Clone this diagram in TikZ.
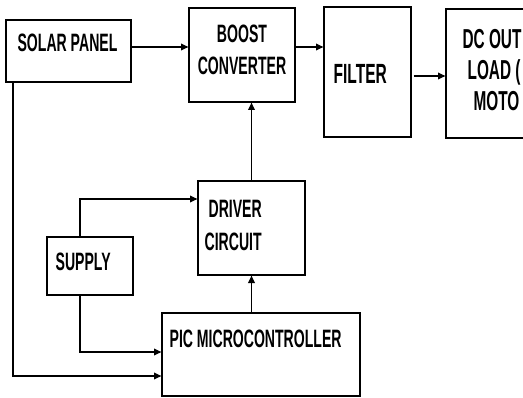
\documentclass[tikz,border=0pt]{standalone}
\usepackage{fontspec}
\setsansfont{Liberation Sans}[FakeStretch=0.56]
\usepackage{tikz}
\usetikzlibrary{arrows.meta}

\begin{document}
\begin{tikzpicture}[>={Triangle[length=4.2pt,width=3.8pt]}, line width=0.7pt,
    block/.style={draw, inner sep=0pt},
    blocktext/.style={inner sep=0pt, font=\sffamily\bfseries\fontsize{14.3}{18.5}\selectfont}]
  \path[use as bounding box, clip] (0,0) rectangle (10.46,-7.94);
  % blocks
  \node[block, minimum width=2.5cm,  minimum height=1.24cm] (solar)  at (1.37,-1.02)  {};
  \node[block, minimum width=2.12cm, minimum height=1.88cm] (boost)  at (4.84,-1.10)  {};
  \node[block, minimum width=1.74cm, minimum height=2.6cm]  (filter) at (7.35,-1.44)  {};
  \node[block, minimum width=2.4cm,  minimum height=2.58cm] (dcout)  at (10.12,-1.47) {};
  \node[block, minimum width=2.14cm, minimum height=1.88cm] (driver) at (5.03,-4.56)  {};
  \node[block, minimum width=1.72cm, minimum height=1.16cm] (supply) at (1.80,-5.32)  {};
  \node[block, minimum width=3.96cm, minimum height=1.66cm] (pic)    at (5.22,-7.09)  {};
  % texts (base = last line)
  \node[blocktext, anchor=base]      (solartxt)  at (1.35,-1.034) {SOLAR PANEL};
  \node[blocktext, anchor=base, align=center] (boosttxt) at (4.84,-1.50) {BOOST\\CONVERTER};
  \node[blocktext, anchor=base west, font=\sffamily\bfseries\fontsize{15.8}{18.5}\selectfont] (filtertxt) at (6.66,-1.66) {FILTER};
  \node[blocktext, anchor=base west, align=left, font=\sffamily\bfseries\fontsize{15.6}{17.5}\selectfont] (dcouttxt) at (9.24,-2.20)
    {DC OUT\\\hspace*{0.1cm}LOAD (\\\hspace*{0.22cm}MOTO};
  \node[blocktext, anchor=base west, align=left] (drivertxt) at (4.08,-5.00)
    {\hspace*{0.08cm}DRIVER\\CIRCUIT};
  \node[blocktext, anchor=base west] (supplytxt) at (1.10,-5.40) {SUPPLY};
  \node[blocktext, anchor=base west] (pictxt)    at (3.38,-6.94) {PIC MICROCONTROLLER};
  % bends
  \coordinate (supplyup) at (1.60,-3.98);
  \coordinate (supplydn) at (1.60,-7.04);
  \coordinate (solardn)  at (0.26,-7.52);
  % connectors
  \draw[->] (solar.east |- 0,-0.94)  -- (boost.west |- 0,-0.94);
  \draw[->] (boost.east |- 0,-0.94)  -- (filter.west |- 0,-0.94);
  \draw[->] ([xshift=0.04cm]filter.east |- 0,-1.52) -- (dcout.west |- 0,-1.52);
  \draw[->] (driver.north) -- (driver.north |- boost.south);
  \draw[->] (driver.south |- pic.north) -- (driver.south);
  \draw[->] (supply.north -| supplyup) |- (driver.west |- supplyup);
  \draw[->] (supply.south -| supplydn) |- (pic.west |- supplydn);
  \draw[->] (solar.south -| solardn)   |- (pic.west |- solardn);
\end{tikzpicture}
\end{document}
